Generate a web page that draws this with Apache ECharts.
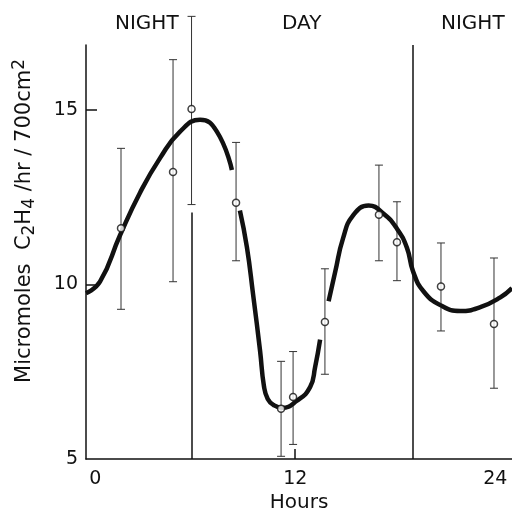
<!DOCTYPE html>
<html>
<head>
<meta charset="utf-8">
<script src="https://cdn.jsdelivr.net/npm/echarts@6/dist/echarts.min.js"></script>
<style>
  html, body { margin: 0; padding: 0; background: #fff; }
  #chart { width: 512px; height: 518px; }
</style>
</head>
<body>
<div id="chart"></div>
<script>
// measured points (hour, mean, error bar low/high)
const hours = [1.55, 4.67, 5.78, 8.45, 11.15, 11.87, 13.78, 17.02, 18.1, 20.74, 23.92];
const means = [11.61, 13.22, 15.03, 12.34, 6.44, 6.78, 8.93, 12.0, 11.21, 9.94, 8.87];
const lows = [9.29, 10.08, 12.29, 10.68, 5.08, 5.42, 7.43, 10.68, 10.11, 8.67, 7.03];
const highs = [13.9, 16.44, 17.68, 14.07, 7.8, 8.08, 10.45, 13.42, 12.37, 11.19, 10.76];

// fitted curve, drawn in three broken pieces
const curveA = [[-0.55, 9.75], [0.29, 10.08], [1.49, 11.41], [2.69, 12.63], [3.89, 13.62], [5.09, 14.38], [6.29, 14.72], [7.3, 14.38], [8.2, 13.28]];
const curveB = [[8.68, 12.12], [9.1, 11.07], [9.47, 9.72], [9.89, 8.1], [10.12, 7.1], [10.35, 6.72], [10.7, 6.55], [11.2, 6.47], [12.1, 6.67], [12.89, 7.06], [13.19, 7.63], [13.49, 8.42]];
const curveC = [[14.0, 9.52], [14.4, 10.37], [14.87, 11.33], [15.47, 11.98], [16.4, 12.26], [17.3, 12.03], [18.1, 11.6], [18.7, 11.05], [19.07, 10.37], [19.7, 9.8], [20.7, 9.41], [21.9, 9.24], [23.1, 9.35], [24.3, 9.63], [25, 9.9]];

// light/dark boundaries
const dayStart = 5.8;
const nightStart = 19.07;

const xTicks = [0, 12, 24];
const yTicks = [5, 10, 15];

const ink = '#111';
const font = 'DejaVu Sans';

const chart = echarts.init(document.getElementById('chart'), null, { renderer: 'canvas' });

const curveSeries = [curveA, curveB, curveC].map(points => ({
  type: 'line',
  data: points,
  smooth: 0.5,
  showSymbol: false,
  silent: true,
  lineStyle: { color: ink, width: 4.5, cap: 'butt' },
  z: 3
}));

chart.setOption({
  animation: false,
  backgroundColor: '#fff',
  grid: { left: 86, right: 0, top: 45, bottom: 52 },
  xAxis: {
    type: 'value',
    min: -0.55,
    max: 25,
    name: 'Hours',
    nameLocation: 'middle',
    nameGap: 29,
    nameTextStyle: { color: ink, fontFamily: font, fontSize: 20, verticalAlign: 'top' },
    axisLine: { onZero: false, lineStyle: { color: ink, width: 1.5 } },
    axisTick: { inside: true, length: 10, customValues: [12], lineStyle: { color: ink, width: 1.5 } },
    axisLabel: { customValues: xTicks, color: ink, fontFamily: font, fontSize: 19, margin: 10 },
    splitLine: { show: false }
  },
  yAxis: {
    type: 'value',
    min: 5,
    max: 16.86,
    axisLine: { show: true, onZero: false, lineStyle: { color: ink, width: 1.5 } },
    axisTick: { inside: true, length: 11, customValues: [10, 15], lineStyle: { color: ink, width: 1.5 } },
    axisLabel: { customValues: yTicks, color: ink, fontFamily: font, fontSize: 19, margin: 8 },
    splitLine: { show: false }
  },
  graphic: [
    { type: 'text', left: 115, top: 14, style: { text: 'NIGHT', fill: ink, font: `20px "${font}"` } },
    { type: 'text', left: 282, top: 14, style: { text: 'DAY', fill: ink, font: `20px "${font}"` } },
    { type: 'text', left: 441, top: 14, style: { text: 'NIGHT', fill: ink, font: `20px "${font}"` } },
    {
      type: 'text',
      x: 25,
      y: 221,
      rotation: Math.PI / 2,
      style: {
        text: 'Micromoles  C{sub|2}H{sub|4} /hr / 700cm{sup|2}',
        fill: ink,
        font: `21px "${font}"`,
        align: 'center',
        verticalAlign: 'middle',
        rich: {
          sub: { fontSize: 17, fontFamily: font, fill: ink, verticalAlign: 'bottom', padding: [10, 0, 0, 0] },
          sup: { fontSize: 17, fontFamily: font, fill: ink, verticalAlign: 'top', padding: [0, 0, 8, 0] }
        }
      }
    }
  ],
  series: [
    ...curveSeries,
    {
      type: 'custom',
      clip: false,
      silent: true,
      z: 2,
      data: hours.map((h, i) => [h, lows[i], highs[i]]),
      renderItem: (params, api) => {
        const top = api.coord([api.value(0), api.value(2)]);
        const bot = api.coord([api.value(0), api.value(1)]);
        const half = 4;
        const style = { stroke: '#333', lineWidth: 1 };
        return {
          type: 'group',
          children: [
            { type: 'line', shape: { x1: top[0], y1: top[1], x2: bot[0], y2: bot[1] }, style },
            { type: 'line', shape: { x1: top[0] - half, y1: top[1], x2: top[0] + half, y2: top[1] }, style },
            { type: 'line', shape: { x1: bot[0] - half, y1: bot[1], x2: bot[0] + half, y2: bot[1] }, style }
          ]
        };
      }
    },
    {
      type: 'scatter',
      data: hours.map((h, i) => [h, means[i]]),
      symbol: 'circle',
      symbolSize: 7,
      silent: true,
      itemStyle: { color: '#fff', borderColor: ink, borderWidth: 1.5 },
      z: 4
    },
    {
      type: 'line',
      data: [],
      silent: true,
      markLine: {
        silent: true,
        symbol: 'none',
        label: { show: false },
        lineStyle: { color: ink, width: 1.5, type: 'solid' },
        data: [
          [{ coord: [dayStart, 5] }, { coord: [dayStart, 12.06] }],
          [{ coord: [nightStart, 5] }, { coord: [nightStart, 16.86] }]
        ]
      }
    }
  ]
});
</script>
</body>
</html>
